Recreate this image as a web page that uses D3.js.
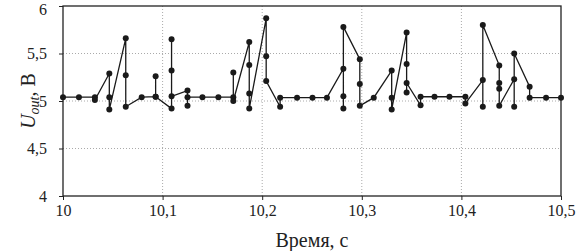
<!DOCTYPE html>
<html>
<head>
<meta charset="utf-8">
<script src="https://cdn.jsdelivr.net/npm/d3@7"></script>
<style>
  body { margin: 0; background: #fff; }
  svg text { font-family: "Liberation Serif", "Times New Roman", "DejaVu Serif", serif; fill: #222; }
</style>
</head>
<body>
<div id="chart"></div>
<script>
// samples in drawing order: time (s) and output voltage (V)
var times = [10.000, 10.016, 10.032, 10.032, 10.0465, 10.0465, 10.0465,
  10.063, 10.063, 10.063, 10.079, 10.093, 10.093, 10.093,
  10.109, 10.109, 10.109, 10.109, 10.125, 10.125, 10.125,
  10.140, 10.156, 10.171, 10.171, 10.171,
  10.187, 10.187, 10.187, 10.187, 10.204, 10.204, 10.204,
  10.218, 10.218, 10.235, 10.2505, 10.265,
  10.2815, 10.2815, 10.2815, 10.2815, 10.298, 10.298, 10.298,
  10.312, 10.330, 10.330, 10.330, 10.345, 10.345, 10.345, 10.345,
  10.359, 10.359, 10.373, 10.388, 10.404, 10.404,
  10.4215, 10.4215, 10.4215, 10.438, 10.438, 10.438, 10.438,
  10.453, 10.453, 10.453, 10.4685, 10.4685, 10.485, 10.500];
var volts = [5.04, 5.04, 5.04, 5.01, 5.29, 5.04, 4.91,
  5.66, 5.27, 4.94, 5.04, 5.045, 5.26, 5.045,
  4.92, 5.65, 5.32, 5.05, 5.11, 4.95, 5.04,
  5.04, 5.04, 5.04, 5.30, 5.00,
  5.62, 5.38, 5.08, 4.92, 5.87, 5.47, 5.21,
  4.94, 5.035, 5.035, 5.035, 5.035,
  5.34, 5.05, 4.92, 5.78, 5.44, 5.18, 4.95,
  5.035, 5.32, 5.035, 4.91, 5.72, 5.39, 5.09, 5.19,
  4.955, 5.045, 5.045, 5.045, 5.045, 4.975,
  5.22, 4.94, 5.80, 5.375, 5.19, 5.13, 4.95,
  5.23, 4.94, 5.50, 5.15, 5.035, 5.035, 5.035];

var xTicks = [10, 10.1, 10.2, 10.3, 10.4, 10.5];
var yTicks = [4, 4.5, 5, 5.5, 6];

var width = 576, height = 251;
var margin = {top: 6, right: 15, bottom: 55, left: 63};
var serif = "'Liberation Serif', 'Times New Roman', 'DejaVu Serif', serif";

var data = times.map(function(t, i) { return {t: t, v: volts[i]}; });

var x = d3.scaleLinear().domain([10, 10.5]).range([margin.left, width - margin.right]);
var y = d3.scaleLinear().domain([4, 6]).range([height - margin.bottom, margin.top]);

var fmt = function(d) { return String(d).replace(".", ","); };

var svg = d3.select("#chart").append("svg")
    .attr("width", width)
    .attr("height", height);

// dotted grid
svg.append("g").selectAll("line")
    .data(xTicks.slice(1, -1)).enter().append("line")
    .attr("x1", function(d) { return x(d); })
    .attr("x2", function(d) { return x(d); })
    .attr("y1", y(4)).attr("y2", y(6))
    .style("stroke", "#aaa").style("stroke-dasharray", "1,2");
svg.append("g").selectAll("line")
    .data(yTicks.slice(1, -1)).enter().append("line")
    .attr("y1", function(d) { return y(d); })
    .attr("y2", function(d) { return y(d); })
    .attr("x1", x(10)).attr("x2", x(10.5))
    .style("stroke", "#aaa").style("stroke-dasharray", "1,2");

// axes
var xAxis = svg.append("g")
    .attr("transform", "translate(0," + y(4) + ")")
    .call(d3.axisBottom(x).tickValues(xTicks).tickFormat(fmt).tickSize(4).tickPadding(5));
var yAxis = svg.append("g")
    .attr("transform", "translate(" + x(10) + ",0)")
    .call(d3.axisLeft(y).tickValues(yTicks).tickFormat(fmt).tickSize(4).tickPadding(12));
[xAxis, yAxis].forEach(function(g) {
  g.attr("font-family", serif).attr("font-size", 16);
  g.select(".domain").remove();
  g.selectAll("line").style("stroke", "#222");
  g.selectAll("text").style("fill", "#222");
});
// keep the top label inside the page
yAxis.selectAll(".tick text").filter(function(d) { return d === 6; }).attr("dy", "0.5em");

// frame
svg.append("rect")
    .attr("x", x(10)).attr("y", y(6))
    .attr("width", x(10.5) - x(10)).attr("height", y(4) - y(6))
    .style("fill", "none").style("stroke", "#222").style("stroke-width", 1.3);

// signal
var line = d3.line()
    .x(function(d) { return x(d.t); })
    .y(function(d) { return y(d.v); });

svg.append("path")
    .datum(data)
    .attr("d", line)
    .style("fill", "none")
    .style("stroke", "#1a1a1a")
    .style("stroke-width", 1.3);

svg.append("g").selectAll("circle")
    .data(data).enter().append("circle")
    .attr("cx", function(d) { return x(d.t); })
    .attr("cy", function(d) { return y(d.v); })
    .attr("r", 3)
    .style("fill", "#1a1a1a");

// labels
svg.append("text")
    .attr("x", (x(10) + x(10.5)) / 2)
    .attr("y", 247)
    .attr("text-anchor", "middle")
    .attr("font-family", serif)
    .style("font-size", "20px")
    .text("Время, с");

var yl = svg.append("text")
    .attr("transform", "translate(35," + y(5) + ") rotate(-90)")
    .attr("text-anchor", "middle")
    .attr("font-family", serif)
    .style("font-size", "20px");
yl.append("tspan").style("font-style", "italic").text("U");
yl.append("tspan").style("font-style", "italic").style("font-size", "14px")
    .attr("dy", 4).text("out");
yl.append("tspan").attr("dy", -4).text(", В");
</script>
</body>
</html>
